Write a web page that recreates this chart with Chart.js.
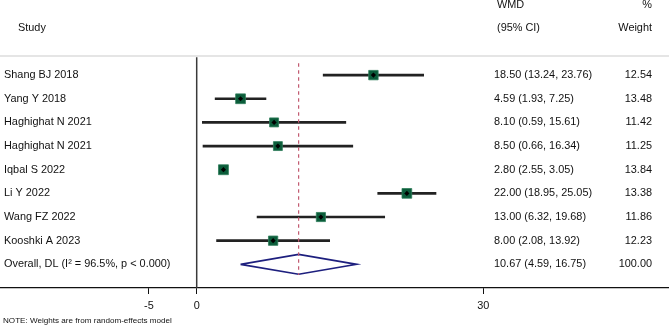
<!DOCTYPE html>
<html>
<head>
<meta charset="utf-8">
<script src="https://cdn.jsdelivr.net/npm/chart.js@4"></script>
<style>
  html, body { margin: 0; padding: 0; background: #fff; }
  #wrap { width: 669px; height: 327px; }
</style>
</head>
<body>
<div id="wrap"><canvas id="forest"></canvas></div>
<script>
// Forest plot data (WMD, random-effects)
const studies = ['Shang BJ 2018', 'Yang Y 2018', 'Haghighat N 2021', 'Haghighat N 2021',
  'Iqbal S 2022', 'Li Y 2022', 'Wang FZ 2022', 'Kooshki A 2023'];
const wmd = [18.50, 4.59, 8.10, 8.50, 2.80, 22.00, 13.00, 8.00];
const ciLow = [13.24, 1.93, 0.59, 0.66, 2.55, 18.95, 6.32, 2.08];
const ciHigh = [23.76, 7.25, 15.61, 16.34, 3.05, 25.05, 19.68, 13.92];
const weights = [12.54, 13.48, 11.42, 11.25, 13.84, 13.38, 11.86, 12.23];

const overallLabel = 'Overall, DL (I\u00B2 = 96.5%, p < 0.000)';
const overallEst = 10.67;
const overallLow = 4.59;
const overallHigh = 16.75;
const overallWeight = 100.00;

const xTicks = [-5, 0, 30];

const FONT = '"Liberation Sans", Arial, Helvetica, sans-serif';
const overallRow = studies.length;
const fmt = (v) => v.toFixed(2);

// draws the text columns and the header rule
const tablePlugin = {
  id: 'table',
  beforeDatasetsDraw(chart) {
    const ctx = chart.ctx;
    ctx.save();
    ctx.strokeStyle = '#dcdcdc';
    ctx.lineWidth = 1.5;
    ctx.beginPath();
    ctx.moveTo(0, 56);
    ctx.lineTo(chart.width, 56);
    ctx.stroke();
    ctx.restore();
  },
  afterDraw(chart) {
    const ctx = chart.ctx;
    const y = chart.scales.y;
    ctx.save();
    ctx.fillStyle = '#111';
    ctx.textBaseline = 'middle';
    ctx.font = '10.9px ' + FONT;

    ctx.textAlign = 'left';
    ctx.fillText('Study', 18, 28);
    ctx.fillText('WMD', 497, 5);
    ctx.fillText('(95% CI)', 497, 28);
    ctx.textAlign = 'right';
    ctx.fillText('%', 652, 5);
    ctx.fillText('Weight', 652, 28);

    studies.forEach((s, i) => {
      const py = y.getPixelForValue(i);
      ctx.textAlign = 'left';
      ctx.fillText(s, 4, py);
      ctx.fillText(fmt(wmd[i]) + ' (' + fmt(ciLow[i]) + ', ' + fmt(ciHigh[i]) + ')', 494, py);
      ctx.textAlign = 'right';
      ctx.fillText(fmt(weights[i]), 652, py);
    });

    const oy = y.getPixelForValue(overallRow);
    ctx.textAlign = 'left';
    ctx.fillText(overallLabel, 4, oy);
    ctx.fillText(fmt(overallEst) + ' (' + fmt(overallLow) + ', ' + fmt(overallHigh) + ')', 494, oy);
    ctx.textAlign = 'right';
    ctx.fillText(fmt(overallWeight), 652, oy);

    ctx.textAlign = 'left';
    ctx.font = '8.1px ' + FONT;
    ctx.fillText('NOTE: Weights are from random-effects model', 3, 321);
    ctx.restore();
  }
};

const rows = studies.map((s, i) => i);
const diamondHalf = 0.42;

new Chart(document.getElementById('forest'), {
  type: 'scatter',
  data: {
    datasets: [
      {
        // small black marker at the point estimate
        type: 'scatter',
        data: rows.map(i => ({ x: wmd[i], y: i })),
        pointStyle: 'rectRot',
        pointRadius: 2.6,
        backgroundColor: '#000',
        borderWidth: 0,
        order: 0
      },
      {
        // weight boxes
        type: 'scatter',
        data: rows.map(i => ({ x: wmd[i], y: i })),
        pointStyle: 'rect',
        pointRadius: rows.map(i => 7.0 * Math.sqrt(weights[i] / 13.84)),
        backgroundColor: '#0b5c3a',
        borderColor: '#2f7d5a',
        borderWidth: 0.8,
        order: 1
      },
      {
        // pooled estimate line
        type: 'line',
        data: [{ x: overallEst, y: -0.5 }, { x: overallEst, y: overallRow + diamondHalf + 0.03 }],
        borderColor: '#c25a70',
        borderWidth: 1.2,
        borderDash: [3.5, 3.5],
        pointRadius: 0,
        order: 2
      },
      {
        // confidence intervals
        type: 'bar',
        indexAxis: 'y',
        data: rows.map(i => ({ x: [ciLow[i], ciHigh[i]], y: i })),
        backgroundColor: '#222',
        barThickness: 2,
        borderWidth: 0,
        borderSkipped: false,
        order: 3
      },
      {
        // overall diamond
        type: 'line',
        data: [
          { x: overallLow, y: overallRow },
          { x: overallEst, y: overallRow - diamondHalf },
          { x: overallHigh, y: overallRow },
          { x: overallEst, y: overallRow + diamondHalf },
          { x: overallLow, y: overallRow }
        ],
        borderColor: '#1d1f7e',
        borderWidth: 1.6,
        pointRadius: 0,
        fill: false,
        order: 2
      },
      {
        // line of no effect
        type: 'line',
        data: [{ x: 0, y: -0.76 }, { x: 0, y: overallRow + 1 }],
        borderColor: '#3a3a3a',
        borderWidth: 1.5,
        pointRadius: 0,
        order: 4
      }
    ]
  },
  options: {
    responsive: true,
    maintainAspectRatio: false,
    animation: false,
    layout: { padding: 0, autoPadding: false },
    plugins: {
      legend: { display: false },
      tooltip: { enabled: false }
    },
    scales: {
      x: {
        type: 'linear',
        min: -20.59,
        max: 49.44,
        offset: false,
        afterBuildTicks: (s) => { s.ticks = xTicks.map(v => ({ value: v })); },
        afterFit: (s) => { s.height = 39; },
        grid: {
          offset: false,
          drawOnChartArea: false,
          drawTicks: true,
          tickLength: 6,
          color: '#111',
          lineWidth: 1
        },
        border: { display: true, color: '#111', width: 1.2 },
        ticks: {
          color: '#111',
          padding: 5,
          maxRotation: 0,
          autoSkip: false,
          font: { family: FONT, size: 10.9 }
        }
      },
      y: {
        type: 'linear',
        display: false,
        reverse: true,
        offset: false,
        grid: { offset: false },
        min: -3.175,
        max: 9
      }
    }
  },
  plugins: [tablePlugin]
});
</script>
</body>
</html>
